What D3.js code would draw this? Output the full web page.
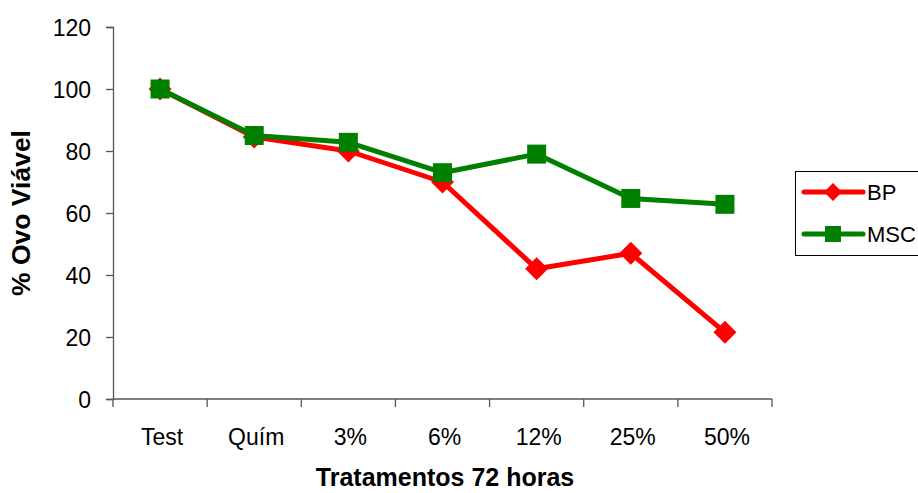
<!DOCTYPE html>
<html><head><meta charset="utf-8">
<script src="https://cdn.jsdelivr.net/npm/d3@7"></script>
<style>body{margin:0;background:#fff}svg{display:block}</style>
</head><body>
<svg id="c" width="918" height="493"></svg>
<script>
const categories = ["Test","Quím","3%","6%","12%","25%","50%"];
const bpValues = [100, 84.5, 80, 70, 42, 47, 21.5];
const mscValues = [100, 85, 82.8, 73, 79, 64.7, 62.8];
const yTicks = [0,20,40,60,80,100,120];
const seriesNames = ["BP","MSC"];

const svg = d3.select("#c");
const font = "Liberation Sans, Arial, sans-serif";
const x0 = 113, x1 = 772, yTop = 27, yBot = 399;
const x = d3.scaleBand().domain(categories).range([x0, x1]);
const y = d3.scaleLinear().domain([0,120]).range([yBot, yTop]);

// y axis
const ya = svg.append("g").attr("transform",`translate(${x0},0)`)
  .call(d3.axisLeft(y).tickValues(yTicks).tickSize(7).tickPadding(15));
ya.select(".domain").attr("stroke","#555").attr("stroke-width",1.3);
ya.selectAll(".tick line").attr("stroke","#555").attr("stroke-width",1.3);
ya.selectAll("text").attr("font-family",font).attr("font-size",23).attr("fill","#000").attr("dy","0.36em");

// x axis
const xa = svg.append("g").attr("transform",`translate(0,${yBot})`)
  .call(d3.axisBottom(x).tickSize(0));
xa.select(".domain").attr("stroke","#555").attr("stroke-width",1.3).attr("d",`M${x0},0H${x1}`);
xa.selectAll("text").attr("font-family",font).attr("font-size",23).attr("fill","#000")
  .attr("y",46).attr("dy",0).attr("dx",2);
const bounds = categories.map(c => x(c)).concat([x1]);
xa.selectAll(".sep").data(bounds).enter().append("line")
  .attr("x1",d=>d).attr("x2",d=>d).attr("y1",0).attr("y2",8)
  .attr("stroke","#555").attr("stroke-width",1.3);

const cx = c => x(c) + x.bandwidth()/2;
const line = d3.line().x((d,i)=>cx(categories[i])).y(d=>y(d));

const diamond = (g, px, py, r) => g.append("path")
  .attr("d",`M${px},${py-r}L${px+r},${py}L${px},${py+r}L${px-r},${py}Z`).attr("fill","#ff0000");
const square = (g, px, py, s) => g.append("rect")
  .attr("x",px-s/2).attr("y",py-s/2).attr("width",s).attr("height",s).attr("fill","#008000");

const g = svg.append("g");
g.append("path").datum(bpValues).attr("d",line).attr("fill","none")
  .attr("stroke","#ff0000").attr("stroke-width",5).attr("stroke-linejoin","round");
bpValues.forEach((v,i)=>diamond(g, cx(categories[i]), y(v), 11.5));
g.append("path").datum(mscValues).attr("d",line).attr("fill","none")
  .attr("stroke","#008000").attr("stroke-width",5).attr("stroke-linejoin","round");
mscValues.forEach((v,i)=>square(g, cx(categories[i]), y(v), 19));

// axis titles
svg.append("text").attr("x",445).attr("y",486).attr("text-anchor","middle")
  .attr("font-family",font).attr("font-size",25).attr("font-weight","bold").text("Tratamentos 72 horas");
svg.append("text").attr("transform","translate(30,213) rotate(-90)").attr("text-anchor","middle")
  .attr("font-family",font).attr("font-size",26.5).attr("font-weight","bold").text("% Ovo Viável");

// legend
const lg = svg.append("g");
lg.append("rect").attr("x",795.5).attr("y",171.5).attr("width",140).attr("height",84)
  .attr("fill","#fff").attr("stroke","#000").attr("stroke-width",1);
const colors = ["#ff0000","#008000"];
seriesNames.forEach((n,i)=>{
  const ly = 192 + i*42;
  lg.append("line").attr("x1",804).attr("x2",863).attr("y1",ly).attr("y2",ly)
    .attr("stroke",colors[i]).attr("stroke-width",5).attr("stroke-linecap","round");
  if(i===0) diamond(lg, 833, ly, 9); else square(lg, 833, ly, 16);
  lg.append("text").attr("x",867).attr("y",ly+8).attr("font-family",font).attr("font-size",22).text(n);
});
</script>
</body></html>
